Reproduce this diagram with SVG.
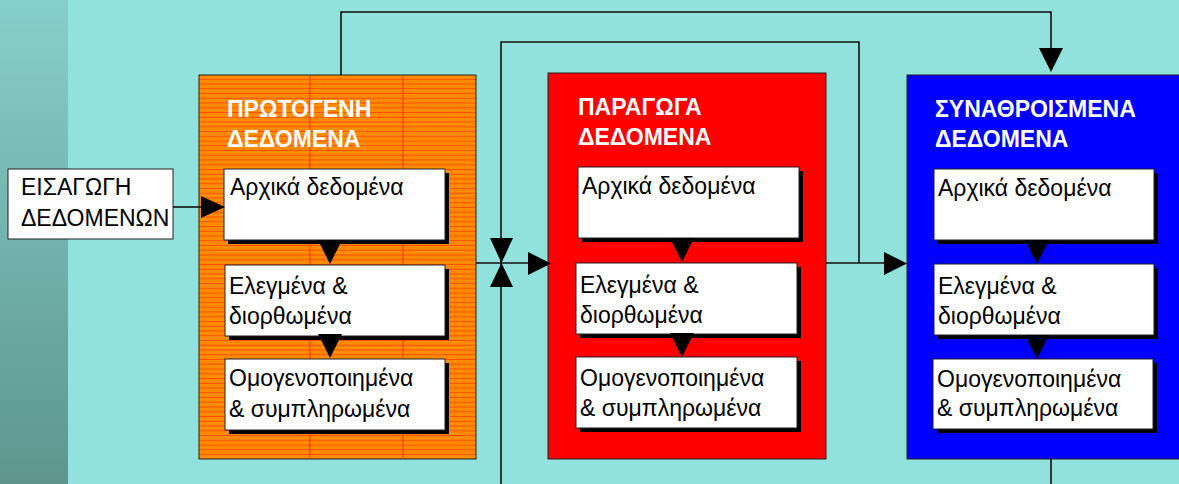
<svg xmlns="http://www.w3.org/2000/svg" width="1179" height="484" viewBox="0 0 1179 484">
<defs>
<linearGradient id="strip" x1="0" y1="0" x2="0" y2="1">
<stop offset="0" stop-color="#87cfca"/>
<stop offset="1" stop-color="#5e958f"/>
</linearGradient>
<pattern id="hatch" x="0" y="75" width="8" height="4.75" patternUnits="userSpaceOnUse">
<rect width="8" height="4.75" fill="#ff8c00"/>
<rect y="3.75" width="8" height="1" fill="#ff5000"/>
</pattern>
</defs>
<style>
.ln{stroke:#111;stroke-width:1.6;fill:none}
.frame{stroke:#222;stroke-width:1}
.wb{fill:#fff;stroke:#222;stroke-width:1}
.sh{fill:#000}
.t{font-family:"Liberation Sans",Arial,sans-serif;font-size:23px;fill:#000}
.h{font-family:"Liberation Sans",Arial,sans-serif;font-size:23px;font-weight:bold;fill:#fff}
.tri{fill:#000}
</style>
<rect width="1179" height="484" fill="#91e2dc"/>
<rect width="68" height="484" fill="url(#strip)"/>

<g id="input">
<rect x="8" y="169" width="165" height="70" class="wb"/>
<text class="t" x="21" y="195">ΕΙΣΑΓΩΓΗ</text>
<text class="t" x="21" y="226">ΔΕΔΟΜΕΝΩΝ</text>
</g>

<g id="raw">
<rect x="199" y="75" width="277" height="384" fill="url(#hatch)" class="frame"/>
<path d="M310,76 V458 M403,76 V458" stroke="#ff2a00" stroke-width="1"/>
<text class="h" x="227" y="117">ΠΡΩΤΟΓΕΝΗ</text>
<text class="h" x="227" y="147">ΔΕΔΟΜΕΝΑ</text>
<g id="raw-1">
<rect x="228" y="173" width="221" height="71" class="sh"/>
<rect x="224" y="169" width="221" height="71" class="wb"/>
<text class="t" x="230" y="195">Αρχικά δεδομένα</text>
</g>
<path class="tri" d="M318,240 L342,240 L330,264 Z"/>
<g id="raw-2">
<rect x="229" y="269" width="220" height="71" class="sh"/>
<rect x="225" y="265" width="220" height="71" class="wb"/>
<text class="t" x="229" y="294">Ελεγμένα &amp;</text>
<text class="t" x="229" y="324">διορθωμένα</text>
</g>
<path class="tri" d="M318,334 L342,334 L330,358 Z"/>
<g id="raw-3">
<rect x="229" y="363" width="220" height="71" class="sh"/>
<rect x="225" y="359" width="220" height="71" class="wb"/>
<text class="t" x="229" y="386">Ομογενοποιημένα</text>
<text class="t" x="229" y="417">&amp; συμπληρωμένα</text>
</g>
</g>

<g id="derived">
<rect x="548" y="73" width="278" height="386" fill="#ff0000" class="frame"/>
<text class="h" x="578" y="115">ΠΑΡΑΓΩΓΑ</text>
<text class="h" x="578" y="145">ΔΕΔΟΜΕΝΑ</text>
<g id="derived-1">
<rect x="582" y="171" width="221" height="71" class="sh"/>
<rect x="578" y="167" width="221" height="71" class="wb"/>
<text class="t" x="582" y="194">Αρχικά δεδομένα</text>
</g>
<path class="tri" d="M670,238 L694,238 L682,262 Z"/>
<g id="derived-2">
<rect x="580" y="267" width="221" height="71" class="sh"/>
<rect x="576" y="263" width="221" height="71" class="wb"/>
<text class="t" x="580" y="293">Ελεγμένα &amp;</text>
<text class="t" x="580" y="323">διορθωμένα</text>
</g>
<path class="tri" d="M670,333 L694,333 L682,357 Z"/>
<g id="derived-3">
<rect x="580" y="361" width="221" height="71" class="sh"/>
<rect x="576" y="357" width="221" height="71" class="wb"/>
<text class="t" x="580" y="386">Ομογενοποιημένα</text>
<text class="t" x="580" y="416">&amp; συμπληρωμένα</text>
</g>
</g>

<g id="aggregated">
<rect x="907" y="75" width="280" height="384" fill="#0000ff" class="frame"/>
<text class="h" x="935" y="117">ΣΥΝΑΘΡΟΙΣΜΕΝΑ</text>
<text class="h" x="935" y="147">ΔΕΔΟΜΕΝΑ</text>
<g id="aggregated-1">
<rect x="938" y="173" width="220" height="71" class="sh"/>
<rect x="934" y="169" width="220" height="71" class="wb"/>
<text class="t" x="938" y="196">Αρχικά δεδομένα</text>
</g>
<path class="tri" d="M1025,240 L1049,240 L1037,264 Z"/>
<g id="aggregated-2">
<rect x="938" y="268" width="220" height="71" class="sh"/>
<rect x="934" y="264" width="220" height="71" class="wb"/>
<text class="t" x="938" y="294">Ελεγμένα &amp;</text>
<text class="t" x="938" y="324">διορθωμένα</text>
</g>
<path class="tri" d="M1025,335 L1049,335 L1037,359 Z"/>
<g id="aggregated-3">
<rect x="937" y="363" width="220" height="70" class="sh"/>
<rect x="933" y="359" width="220" height="70" class="wb"/>
<text class="t" x="937" y="387">Ομογενοποιημένα</text>
<text class="t" x="937" y="416">&amp; συμπληρωμένα</text>
</g>
</g>

<g id="connectors">
<path class="ln" d="M341,75 V12 H1051 V50"/>
<path class="tri" d="M1039,48 L1063,48 L1051,72 Z"/>
<path class="ln" d="M501,484 V42 H859 V263"/>
<path class="ln" d="M476,263 H528"/>
<path class="tri" d="M528,252 L551,263.5 L528,275 Z"/>
<path class="tri" d="M490,238 L513,238 L501.5,263 Z"/>
<path class="tri" d="M490,287 L513,287 L501.5,263 Z"/>
<path class="ln" d="M826,263 H884"/>
<path class="tri" d="M884,252 L907,263.5 L884,275 Z"/>
<path class="ln" d="M1051,459 V484"/>
<path class="ln" d="M173,207 H201"/>
<path class="tri" d="M201,196 L225,207 L201,218 Z"/>
</g>
</svg>
